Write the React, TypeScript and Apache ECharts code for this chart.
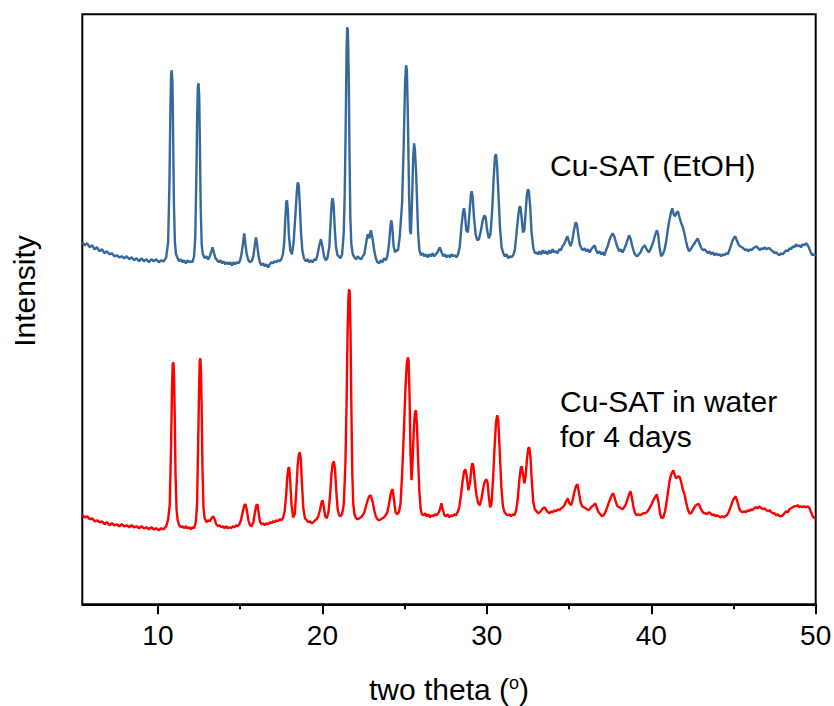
import React, { useEffect, useRef } from "react";
import * as echarts from "echarts";

// Powder XRD patterns, [2θ (°), intensity (a.u.)]
const etohPattern: [number, number][] = [
  [5.4, 100], [5.55, 97], [5.7, 99], [5.85, 95], [6.0, 97], [6.15, 93], [6.3, 95], [6.45, 91], [6.6, 93], [6.75, 89],
  [6.9, 91], [7.05, 88], [7.2, 89], [7.35, 86], [7.5, 87], [7.65, 85], [7.8, 86], [7.95, 84], [8.1, 86], [8.25, 83],
  [8.4, 85], [8.55, 82], [8.7, 84], [8.85, 81], [9.0, 84], [9.15, 81], [9.3, 83], [9.45, 80], [9.6, 83], [9.75, 81],
  [9.9, 83], [10.05, 80], [10.2, 82], [10.35, 81], [10.5, 85],
  [10.62, 100], [10.7, 160], [10.76, 235], [10.8, 268], [10.84, 272], [10.88, 262], [10.92, 215], [10.97, 140], [11.03, 100],
  [11.1, 88], [11.2, 84], [11.3, 81], [11.4, 83], [11.5, 80], [11.6, 82], [11.7, 79], [11.8, 82], [11.9, 80], [12.0, 81],
  [12.1, 80], [12.2, 86],
  [12.27, 105], [12.34, 170], [12.39, 230], [12.43, 256], [12.47, 259], [12.51, 245], [12.55, 200], [12.6, 135], [12.66, 98],
  [12.73, 88], [12.85, 84], [12.95, 86], [13.05, 83], [13.15, 86], [13.25, 91], [13.32, 95], [13.4, 90], [13.5, 84],
  [13.6, 82], [13.7, 80], [13.8, 82], [13.9, 79], [14.0, 81], [14.1, 78], [14.2, 80], [14.3, 78], [14.4, 80], [14.5, 77],
  [14.6, 80], [14.7, 78], [14.8, 80], [14.9, 79], [15.0, 82], [15.1, 90],
  [15.18, 100], [15.25, 109], [15.32, 98], [15.4, 88], [15.5, 82], [15.6, 80], [15.7, 81], [15.8, 86], [15.9, 98],
  [15.96, 105], [16.03, 98], [16.12, 86], [16.2, 80], [16.3, 77], [16.4, 79], [16.5, 76], [16.6, 78], [16.7, 75],
  [16.8, 78], [16.9, 80], [17.0, 79], [17.1, 81], [17.2, 80], [17.3, 82], [17.4, 81], [17.5, 83], [17.6, 88],
  [17.68, 100], [17.75, 125], [17.8, 140], [17.85, 142], [17.9, 132], [17.96, 108], [18.05, 92], [18.15, 88],
  [18.25, 100], [18.35, 125], [18.45, 152], [18.5, 160], [18.56, 157], [18.62, 140], [18.7, 110], [18.78, 92],
  [18.88, 84], [19.0, 81], [19.1, 83], [19.2, 80], [19.3, 82], [19.4, 80], [19.5, 83], [19.6, 82], [19.7, 87],
  [19.8, 96], [19.91, 103], [20.0, 96], [20.1, 86], [20.2, 82], [20.3, 84], [20.42, 95], [20.5, 120], [20.57, 140],
  [20.62, 144], [20.68, 138], [20.75, 115], [20.83, 95], [20.92, 87], [21.0, 86], [21.1, 84], [21.2, 88], [21.3, 110],
  [21.36, 150], [21.42, 220], [21.47, 290], [21.51, 315], [21.55, 312], [21.6, 270], [21.65, 190], [21.7, 125],
  [21.76, 98], [21.85, 88], [21.95, 85], [22.05, 83], [22.15, 86], [22.25, 84], [22.35, 83], [22.45, 86], [22.55, 88],
  [22.65, 98], [22.75, 108], [22.85, 104], [22.95, 112], [23.05, 104], [23.15, 92], [23.25, 84], [23.35, 80],
  [23.45, 79], [23.55, 82], [23.65, 80], [23.75, 84], [23.85, 82], [23.95, 86], [24.05, 98], [24.15, 118], [24.2, 122],
  [24.25, 116], [24.33, 96], [24.42, 90], [24.5, 92], [24.6, 92], [24.7, 105],
  [24.85, 140], [24.95, 200], [25.03, 260], [25.09, 277], [25.14, 272], [25.2, 225], [25.27, 150], [25.33, 112],
  [25.38, 108], [25.45, 140], [25.52, 185], [25.58, 199], [25.63, 192], [25.7, 170], [25.76, 140], [25.82, 110],
  [25.9, 92], [26.0, 87], [26.1, 89], [26.2, 86], [26.3, 88], [26.4, 85], [26.5, 88], [26.6, 86], [26.7, 89],
  [26.8, 86], [26.9, 88], [27.0, 90], [27.14, 95], [27.25, 90], [27.35, 86], [27.45, 88], [27.55, 85], [27.65, 87],
  [27.75, 85], [27.85, 88], [27.95, 86], [28.05, 87], [28.15, 85], [28.25, 88], [28.35, 95], [28.45, 115], [28.55, 130],
  [28.61, 134], [28.67, 128], [28.75, 112], [28.85, 110], [28.95, 130], [29.03, 148], [29.08, 151], [29.14, 145],
  [29.22, 125], [29.32, 108], [29.42, 102], [29.52, 103], [29.62, 110], [29.75, 122], [29.85, 127], [29.93, 125],
  [30.02, 112], [30.12, 104], [30.22, 108], [30.32, 130], [30.42, 165], [30.5, 186], [30.56, 188], [30.62, 178],
  [30.7, 150], [30.8, 115], [30.9, 95], [31.0, 89], [31.1, 86], [31.2, 88], [31.3, 84], [31.4, 86], [31.5, 85],
  [31.6, 87], [31.7, 92], [31.8, 108], [31.9, 125], [31.98, 135], [32.04, 136], [32.12, 124], [32.2, 110],
  [32.28, 112], [32.36, 130], [32.44, 148], [32.5, 153], [32.56, 151], [32.64, 135], [32.72, 110], [32.82, 95],
  [32.92, 89], [33.0, 90], [33.1, 88], [33.2, 91], [33.3, 88], [33.4, 92], [33.5, 89], [33.6, 91], [33.7, 88],
  [33.8, 92], [33.9, 89], [34.0, 93], [34.1, 90], [34.2, 91], [34.3, 89], [34.4, 93], [34.5, 92], [34.6, 96],
  [34.7, 98], [34.8, 102], [34.9, 106], [35.0, 100], [35.1, 96], [35.2, 102], [35.3, 112], [35.4, 120], [35.48, 118],
  [35.56, 108], [35.65, 98], [35.75, 94], [35.85, 92], [35.95, 94], [36.05, 91], [36.15, 93], [36.25, 90], [36.35, 93],
  [36.45, 95], [36.56, 97], [36.65, 92], [36.75, 89], [36.85, 91], [36.95, 88], [37.05, 90], [37.15, 87], [37.25, 92],
  [37.35, 96], [37.45, 102], [37.55, 106], [37.65, 109], [37.75, 106], [37.85, 100], [37.95, 95], [38.05, 91],
  [38.15, 93], [38.25, 90], [38.35, 93], [38.45, 97], [38.55, 102], [38.65, 107], [38.75, 103], [38.85, 96],
  [38.95, 90], [39.05, 87], [39.15, 86], [39.25, 88], [39.35, 90], [39.45, 94], [39.6, 97], [39.75, 92], [39.85, 90],
  [39.95, 93], [40.05, 97], [40.15, 102], [40.25, 108], [40.35, 112], [40.42, 108], [40.5, 95], [40.6, 86],
  [40.7, 88], [40.8, 92], [40.9, 100], [41.0, 112], [41.1, 122], [41.2, 130], [41.28, 134], [41.36, 128],
  [41.45, 126], [41.55, 130], [41.62, 131], [41.7, 126], [41.8, 120], [41.9, 116], [42.0, 110], [42.1, 102],
  [42.2, 95], [42.3, 91], [42.4, 93], [42.5, 96], [42.6, 98], [42.7, 101], [42.82, 104], [42.95, 98], [43.05, 94],
  [43.15, 92], [43.25, 93], [43.35, 91], [43.45, 89], [43.55, 91], [43.65, 88], [43.75, 90], [43.85, 87], [43.95, 89],
  [44.05, 87], [44.15, 88], [44.25, 86], [44.35, 88], [44.45, 87], [44.55, 89], [44.65, 88], [44.75, 92], [44.85, 97],
  [44.95, 102], [45.05, 105], [45.11, 106], [45.2, 102], [45.3, 98], [45.4, 96], [45.5, 95], [45.6, 94], [45.7, 92],
  [45.8, 93], [45.9, 91], [46.0, 93], [46.1, 92], [46.2, 94], [46.3, 95], [46.4, 96], [46.5, 94], [46.6, 92],
  [46.7, 94], [46.8, 93], [46.9, 95], [47.0, 93], [47.1, 94], [47.2, 94], [47.3, 92], [47.4, 91], [47.5, 89],
  [47.6, 90], [47.7, 88], [47.8, 87], [47.9, 89], [48.0, 88], [48.1, 90], [48.2, 92], [48.3, 91], [48.4, 94],
  [48.5, 93], [48.6, 96], [48.7, 95], [48.8, 98], [48.9, 96], [49.0, 97], [49.1, 95], [49.2, 98], [49.3, 97],
  [49.42, 99], [49.55, 96], [49.7, 90], [49.8, 87], [49.9, 88], [50.0, 87],
];

const waterPattern: [number, number][] = [
  [5.4, 89], [5.55, 87], [5.7, 88], [5.85, 85], [6.0, 86], [6.15, 83], [6.3, 84], [6.45, 82], [6.6, 83], [6.75, 80],
  [6.9, 82], [7.05, 79], [7.2, 81], [7.35, 79], [7.5, 80], [7.65, 78], [7.8, 80], [7.95, 78], [8.1, 79], [8.25, 77],
  [8.4, 79], [8.55, 77], [8.7, 78], [8.85, 76], [9.0, 78], [9.15, 76], [9.3, 77], [9.45, 75], [9.6, 77], [9.75, 75],
  [9.9, 76], [10.05, 74], [10.2, 76], [10.35, 75], [10.5, 78], [10.62, 85],
  [10.72, 100], [10.8, 160], [10.86, 220], [10.9, 240], [10.94, 242], [10.98, 228], [11.02, 190], [11.07, 130],
  [11.13, 95], [11.2, 84], [11.3, 79], [11.4, 77], [11.5, 78], [11.6, 76], [11.7, 78], [11.8, 76], [11.9, 77],
  [12.0, 75], [12.1, 77], [12.2, 76], [12.3, 82],
  [12.38, 100], [12.45, 165], [12.5, 215], [12.54, 243], [12.58, 246], [12.62, 232], [12.66, 195], [12.71, 135],
  [12.77, 97], [12.84, 86], [12.95, 82], [13.05, 84], [13.15, 83], [13.25, 86], [13.36, 88], [13.45, 85], [13.55, 80],
  [13.65, 78], [13.75, 79], [13.85, 77], [13.95, 78], [14.05, 76], [14.15, 78], [14.25, 76], [14.35, 77], [14.45, 76],
  [14.55, 78], [14.65, 77], [14.75, 79], [14.85, 78], [14.95, 80], [15.05, 84], [15.15, 92], [15.25, 99], [15.33, 100],
  [15.41, 94], [15.5, 84], [15.6, 79], [15.7, 78], [15.8, 82], [15.9, 92], [15.98, 99], [16.05, 100], [16.12, 92],
  [16.2, 83], [16.3, 80], [16.4, 81], [16.5, 79], [16.6, 81], [16.7, 80], [16.8, 82], [16.9, 81], [17.0, 83],
  [17.1, 82], [17.2, 84], [17.3, 83], [17.4, 85], [17.5, 84], [17.6, 86], [17.7, 92],
  [17.8, 110], [17.87, 128], [17.93, 136], [17.98, 137], [18.04, 125], [18.12, 100], [18.22, 87], [18.32, 90],
  [18.42, 115], [18.5, 140], [18.57, 150], [18.63, 152], [18.69, 145], [18.76, 120], [18.84, 96], [18.94, 86],
  [19.05, 84], [19.15, 82], [19.25, 83], [19.35, 81], [19.45, 82], [19.55, 84], [19.65, 85], [19.75, 88], [19.85, 94],
  [19.95, 102], [20.01, 104], [20.08, 98], [20.17, 88], [20.27, 86], [20.37, 92], [20.47, 110], [20.55, 130],
  [20.62, 140], [20.7, 143], [20.77, 135], [20.85, 112], [20.93, 95], [21.02, 89], [21.1, 88], [21.2, 90], [21.3, 100],
  [21.4, 140], [21.47, 200], [21.53, 270], [21.58, 305], [21.62, 315], [21.66, 313], [21.71, 275], [21.76, 200],
  [21.82, 130], [21.88, 100], [21.95, 90], [22.05, 86], [22.15, 85], [22.25, 86], [22.35, 87], [22.45, 89], [22.55, 92],
  [22.65, 98], [22.75, 104], [22.85, 108], [22.94, 109], [23.05, 103], [23.15, 94], [23.25, 88], [23.35, 85],
  [23.45, 84], [23.55, 85], [23.65, 86], [23.75, 87], [23.85, 89], [23.95, 92], [24.05, 100], [24.15, 110], [24.22, 114],
  [24.28, 115], [24.35, 105], [24.45, 92], [24.55, 90], [24.65, 92], [24.75, 100], [24.85, 130],
  [24.95, 170], [25.05, 215], [25.13, 240], [25.19, 247], [25.24, 244], [25.3, 210], [25.36, 150], [25.42, 124],
  [25.48, 140], [25.56, 175], [25.63, 192], [25.69, 194], [25.75, 180], [25.82, 145], [25.9, 112], [25.98, 95],
  [26.05, 90], [26.15, 89], [26.25, 91], [26.35, 88], [26.45, 90], [26.55, 87], [26.65, 89], [26.75, 88], [26.85, 90],
  [26.95, 89], [27.05, 91], [27.15, 95], [27.24, 101], [27.32, 95], [27.42, 89], [27.52, 88], [27.62, 90], [27.72, 87],
  [27.82, 89], [27.92, 88], [28.02, 90], [28.12, 89], [28.22, 92], [28.32, 97], [28.42, 108], [28.52, 122],
  [28.62, 133], [28.7, 135], [28.78, 128], [28.88, 114], [28.98, 122], [29.06, 136], [29.12, 141], [29.18, 139],
  [29.26, 125], [29.36, 110], [29.46, 102], [29.56, 99], [29.66, 104], [29.76, 114], [29.86, 122], [29.96, 125],
  [30.04, 122], [30.12, 108], [30.2, 97], [30.28, 100], [30.38, 125], [30.48, 160], [30.56, 182], [30.63, 189],
  [30.7, 183], [30.78, 155], [30.88, 118], [30.98, 98], [31.08, 92], [31.18, 90], [31.28, 89], [31.38, 90],
  [31.48, 88], [31.58, 90], [31.68, 89], [31.78, 94], [31.88, 105], [31.98, 125], [32.06, 136], [32.12, 138],
  [32.2, 130], [32.28, 121], [32.36, 128], [32.44, 145], [32.52, 156], [32.58, 157], [32.65, 148], [32.73, 125],
  [32.82, 103], [32.92, 95], [33.02, 93], [33.12, 91], [33.22, 92], [33.32, 94], [33.42, 96], [33.52, 97], [33.62, 94],
  [33.72, 92], [33.82, 91], [33.92, 93], [34.02, 92], [34.12, 94], [34.22, 93], [34.32, 95], [34.42, 94], [34.52, 96],
  [34.62, 97], [34.72, 99], [34.82, 103], [34.92, 106], [35.02, 101], [35.12, 99], [35.22, 104], [35.32, 112],
  [35.42, 118], [35.51, 120], [35.6, 112], [35.7, 102], [35.8, 98], [35.9, 97], [36.0, 96], [36.1, 95], [36.2, 94],
  [36.3, 96], [36.4, 98], [36.5, 99], [36.6, 101], [36.7, 96], [36.8, 92], [36.9, 90], [37.0, 88], [37.1, 89],
  [37.2, 92], [37.3, 96], [37.4, 101], [37.5, 105], [37.6, 109], [37.67, 111], [37.75, 108], [37.85, 102], [37.95, 98],
  [38.05, 97], [38.15, 96], [38.25, 95], [38.35, 97], [38.45, 100], [38.55, 105], [38.65, 110], [38.74, 113],
  [38.82, 107], [38.92, 97], [39.02, 91], [39.12, 89], [39.22, 90], [39.32, 89], [39.42, 90], [39.52, 91], [39.62, 91],
  [39.72, 92], [39.82, 94], [39.92, 97], [40.02, 100], [40.12, 104], [40.22, 107], [40.34, 110], [40.44, 102],
  [40.54, 90], [40.64, 86], [40.74, 87], [40.84, 93], [40.94, 103], [41.04, 115], [41.14, 126], [41.24, 131],
  [41.34, 134], [41.42, 130], [41.5, 126], [41.58, 127], [41.66, 128], [41.74, 127], [41.82, 122], [41.92, 115],
  [42.02, 110], [42.12, 102], [42.22, 95], [42.32, 91], [42.42, 91], [42.52, 94], [42.62, 97], [42.72, 99],
  [42.82, 100], [42.9, 100], [43.0, 96], [43.1, 93], [43.2, 91], [43.3, 91], [43.4, 90], [43.5, 92], [43.6, 91],
  [43.7, 89], [43.8, 90], [43.9, 88], [44.0, 89], [44.1, 88], [44.2, 87], [44.3, 88], [44.4, 87], [44.5, 88],
  [44.6, 89], [44.7, 92], [44.8, 96], [44.9, 101], [45.0, 105], [45.13, 108], [45.25, 102], [45.35, 96], [45.45, 93],
  [45.55, 92], [45.65, 93], [45.75, 92], [45.85, 94], [45.95, 93], [46.05, 95], [46.15, 94], [46.25, 96], [46.35, 97],
  [46.45, 96], [46.58, 98], [46.7, 96], [46.8, 95], [46.9, 96], [47.0, 94], [47.1, 93], [47.2, 94], [47.3, 92],
  [47.4, 91], [47.5, 91], [47.6, 89], [47.7, 90], [47.8, 88], [47.9, 88], [48.0, 89], [48.1, 91], [48.2, 93],
  [48.3, 92], [48.4, 95], [48.5, 96], [48.6, 97], [48.7, 98], [48.8, 98], [48.91, 99], [49.0, 97], [49.1, 98],
  [49.2, 97], [49.3, 98], [49.4, 97], [49.52, 98], [49.62, 96], [49.72, 92], [49.82, 88], [49.92, 86], [50.0, 86],
];

// vertical stacking offset of the EtOH pattern above the water pattern
const etohOffset = 262;

const xMin = 5.4;
const xMax = 50;
const firstTick = 10;
const tickStep = 10;

const FONT = "'Liberation Sans', Arial, Helvetica, sans-serif";

// plot box in pixels
const PLOT = { left: 82.3, right: 18.3, top: 14.3, bottom: 101.7, width: 834 };

export default function App() {
  const ref = useRef<HTMLDivElement>(null);

  useEffect(() => {
    if (!ref.current) return;
    const chart = echarts.init(ref.current, undefined, { renderer: "svg" });

    // a second grid whose x axis starts at the first round tick on the same
    // scale, so that the ticks can be laid out from a round minimum
    const plotW = PLOT.width - PLOT.left - PLOT.right;
    const pxPerDeg = plotW / (xMax - xMin);
    const tickGridLeft = PLOT.left + (firstTick - xMin) * pxPerDeg;

    chart.setOption({
      animation: false,
      grid: [
        {
          left: PLOT.left,
          right: PLOT.right,
          top: PLOT.top,
          bottom: PLOT.bottom,
          outerBoundsMode: "none",
          show: true,
          borderColor: "#000",
          borderWidth: 2,
        },
        {
          left: tickGridLeft,
          right: PLOT.right,
          top: PLOT.top,
          bottom: PLOT.bottom,
          outerBoundsMode: "none",
        },
      ],
      xAxis: [
        {
          type: "value",
          gridIndex: 0,
          min: xMin,
          max: xMax,
          axisLine: { show: true, onZero: false, lineStyle: { color: "#000", width: 2 } },
          axisTick: { show: false },
          axisLabel: { show: false },
          splitLine: { show: false },
          name: "two theta ({sup|o})",
          nameLocation: "middle",
          nameGap: 70,
          nameTextStyle: {
            color: "#000",
            fontFamily: FONT,
            fontSize: 30,
            lineHeight: 30,
            rich: {
              sup: { fontFamily: FONT, fontSize: 18, lineHeight: 18, verticalAlign: "top", color: "#000" },
            },
          },
        },
        {
          type: "value",
          gridIndex: 1,
          min: firstTick,
          max: xMax,
          interval: tickStep,
          axisLine: { show: false, onZero: false },
          axisTick: { show: true, length: 10, lineStyle: { color: "#000", width: 2 } },
          minorTick: { show: true, splitNumber: 2, length: 5, lineStyle: { color: "#000", width: 2 } },
          axisLabel: {
            show: true,
            margin: 17,
            color: "#000",
            fontFamily: FONT,
            fontSize: 28,
          },
          splitLine: { show: false },
        },
      ],
      yAxis: [
        {
          type: "value",
          gridIndex: 0,
          min: 0,
          max: 590,
          axisLine: { show: false },
          axisTick: { show: false },
          axisLabel: { show: false },
          splitLine: { show: false },
        },
        {
          type: "value",
          gridIndex: 1,
          min: 0,
          max: 1,
          axisLine: { show: false },
          axisTick: { show: false },
          axisLabel: { show: false },
          splitLine: { show: false },
        },
      ],
      series: [
        {
          name: "Cu-SAT (EtOH)",
          type: "line",
          xAxisIndex: 0,
          yAxisIndex: 0,
          showSymbol: false,
          symbol: "none",
          data: etohPattern.map(([t, i]) => [t, i + etohOffset]),
          lineStyle: { color: "#35689b", width: 2.4 },
        },
        {
          name: "Cu-SAT in water for 4 days",
          type: "line",
          xAxisIndex: 0,
          yAxisIndex: 0,
          showSymbol: false,
          symbol: "none",
          data: waterPattern,
          lineStyle: { color: "#ff0000", width: 2.4 },
        },
      ],
      graphic: [
        {
          type: "text",
          x: 24,
          y: 291,
          rotation: Math.PI / 2,
          style: { text: "Intensity", fill: "#000", font: `30px ${FONT}`, align: "center", verticalAlign: "middle" },
        },
        {
          type: "text",
          x: 550,
          y: 165.5,
          style: { text: "Cu-SAT (EtOH)", fill: "#000", font: `30px ${FONT}`, align: "left", verticalAlign: "middle" },
        },
        {
          type: "text",
          x: 560,
          y: 401.5,
          style: { text: "Cu-SAT in water", fill: "#000", font: `30px ${FONT}`, align: "left", verticalAlign: "middle" },
        },
        {
          type: "text",
          x: 560,
          y: 436.5,
          style: { text: "for 4 days", fill: "#000", font: `30px ${FONT}`, align: "left", verticalAlign: "middle" },
        },
      ],
    });
    return () => chart.dispose();
  }, []);

  return (
    <div
      ref={ref}
      style={{ position: "absolute", left: 0, top: 0, width: 834, height: 706, background: "#fff" }}
    />
  );
}
